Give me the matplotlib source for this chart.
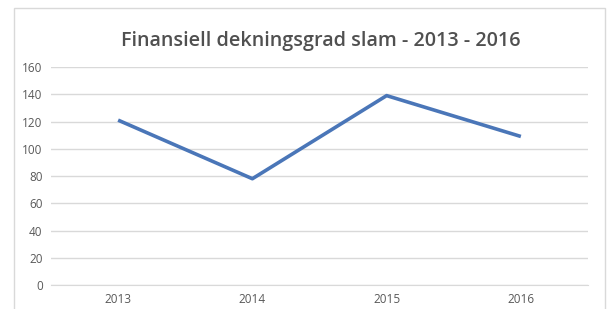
import matplotlib
matplotlib.use("Agg")
import matplotlib.pyplot as plt
from matplotlib.patches import Rectangle

years = ["2013", "2014", "2015", "2016"]
values = [121, 78, 139, 109]
yticks = [0, 20, 40, 60, 80, 100, 120, 140, 160]

W, H = 614, 309
fig = plt.figure(figsize=(W/100, H/100), dpi=100)
fig.patch.set_facecolor("white")

# chart border
fig.add_artist(Rectangle((14/W, -0.05), (605-14)/W, (1.05 - 8/H), transform=fig.transFigure,
                         fill=False, edgecolor="#d9d9d9", linewidth=1))

ax = fig.add_axes([51/W, 1-285/H, (588-51)/W, (285-67)/H])
x = list(range(len(years)))
ax.plot(x, values, color="#4a76b8", linewidth=2.6, solid_capstyle="butt")
ax.set_xlim(-0.5, len(years)-0.5)
ax.set_ylim(0, 160)
ax.set_yticks(yticks)
ax.set_xticks(x)
ax.set_xticklabels(years)
ax.grid(axis="y", color="#d9d9d9", linewidth=1)
ax.set_axisbelow(True)
for s in ["top", "right", "left"]:
    ax.spines[s].set_visible(False)
ax.spines["bottom"].set_color("#d9d9d9")
ax.tick_params(length=0, labelsize=8.5, labelcolor="#595959", pad=6)
for lab in ax.get_yticklabels() + ax.get_xticklabels():
    lab.set_family("Open Sans")

fig.text(321/W, 1-41/H, "Finansiell dekningsgrad slam - 2013 - 2016", ha="center", va="center",
         fontsize=14.2, color="#505050", family="Open Sans", fontweight="semibold")

fig.savefig("out.png", dpi=100)
